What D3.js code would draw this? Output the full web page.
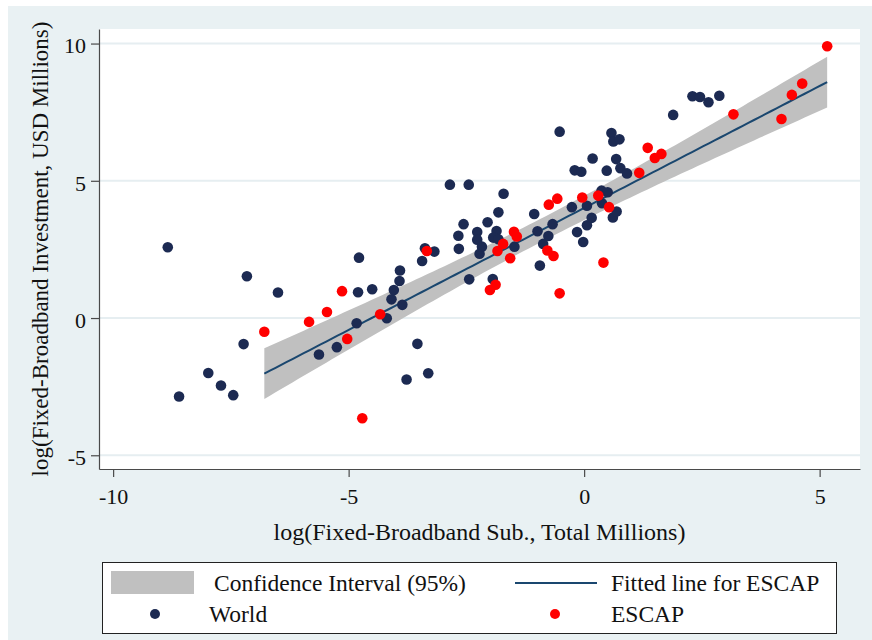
<!DOCTYPE html>
<html>
<head>
<meta charset="utf-8">
<script src="https://cdn.jsdelivr.net/npm/d3@7"></script>
<style>
  html, body { margin: 0; padding: 0; background: #ffffff; }
  svg { display: block; }
  text { font-family: "Liberation Serif", "Times New Roman", serif; fill: #111; }
</style>
</head>
<body>
<svg id="chart" width="872" height="640"></svg>
<script>
// ---- Data ----
const worldX = [-8.84,-8.60,-7.98,-7.71,-7.45,-7.16,-7.23,-6.50,-5.63,-5.25,-4.83,-4.80,-4.78,-4.50,-4.19,-4.09,-4.04,-3.92,-3.91,-3.86,-3.77,-3.54,-3.31,-3.44,-3.38,-3.18,-2.85,-2.45,-2.67,-2.66,-2.56,-2.44,-2.27,-2.27,-2.22,-2.17,-2.05,-1.94,-1.86,-1.93,-1.82,-1.82,-1.71,-1.48,-1.06,-0.99,-0.94,-0.87,-0.76,-0.67,-0.52,-0.26,-0.20,-0.06,-0.15,-0.02,0.06,0.16,0.18,0.06,0.37,0.50,0.38,0.48,0.58,0.62,0.75,0.61,0.69,0.68,0.77,0.91,1.89,2.30,2.46,2.64,2.87];
const worldY = [2.58,-2.86,-2.00,-2.46,-2.81,1.52,-0.95,0.93,-1.33,-1.06,-0.19,0.94,2.20,1.05,-0.01,0.68,1.02,1.35,1.73,0.48,-2.24,-0.94,-2.01,2.08,2.54,2.42,4.86,4.86,3.00,2.52,3.42,1.41,3.13,2.85,2.34,2.60,3.49,1.42,3.17,2.93,2.87,3.85,4.53,2.60,3.79,3.16,1.91,2.70,2.99,3.42,6.79,4.04,5.38,5.33,3.13,2.77,3.38,3.65,5.81,4.09,4.64,4.58,4.18,5.37,6.74,6.43,6.51,3.66,3.88,5.79,5.46,5.27,7.40,8.08,8.05,7.86,8.10];

const escapX = [-6.79,-5.84,-5.46,-5.14,-5.03,-4.71,-4.33,-3.34,-2.00,-1.88,-1.84,-1.72,-1.57,-1.49,-1.43,-0.78,-0.65,-0.75,-0.57,-0.52,-0.04,0.30,0.41,0.53,1.17,1.35,1.50,1.64,3.17,4.19,4.41,4.63,5.16];
const escapY = [-0.50,-0.14,0.22,0.98,-0.76,-3.65,0.14,2.44,1.02,1.21,2.44,2.70,2.18,3.14,2.97,2.46,2.26,4.13,4.35,0.90,4.39,4.46,2.02,4.04,5.29,6.20,5.83,5.98,7.42,7.25,8.13,8.54,9.90];

const xTicks = [-10, -5, 0, 5];
const yTicks = [-5, 0, 5, 10];

const xTitle = "log(Fixed-Broadband Sub., Total Millions)";
const yTitle = "log(Fixed-Broadband Investment, USD Millions)";
const legendLabels = ["Confidence Interval (95%)", "Fitted line for ESCAP", "World", "ESCAP"];

const T95 = 2.0395; // Student t quantile 0.975, df = n - 2 = 31

// ---- Styles ----
const C = {
  outerBg: "#e9f1f3",
  grid: "#e6eef1",
  ci: "#c0c0c0",
  fit: "#1a476f",
  world: "#1c2a52",
  escap: "#ff0000",
  axis: "#4a4a4a"
};

const svg = d3.select("#chart");

// backgrounds
svg.append("rect").attr("x", 0).attr("y", 0).attr("width", 872).attr("height", 640).attr("fill", "#ffffff");
svg.append("rect").attr("x", 8).attr("y", 6).attr("width", 864).attr("height", 634).attr("fill", C.outerBg);

const P = { left: 99, right: 860, top: 29, bottom: 469 };
svg.append("rect").attr("x", P.left).attr("y", P.top)
  .attr("width", P.right - P.left).attr("height", P.bottom - P.top).attr("fill", "#ffffff");

const x = d3.scaleLinear().domain([-10.30, 5.857]).range([P.left, P.right]);
const y = d3.scaleLinear().domain([-5.50, 10.53]).range([P.bottom, P.top]);

// gridlines
svg.append("g").selectAll("line").data(yTicks).join("line")
  .attr("x1", P.left).attr("x2", P.right)
  .attr("y1", d => y(d)).attr("y2", d => y(d))
  .attr("stroke", C.grid).attr("stroke-width", 2);

// ---- Linear fit with 95% CI on ESCAP ----
const n = escapX.length;
const mx = d3.mean(escapX), my = d3.mean(escapY);
let sxx = 0, sxy = 0;
for (let i = 0; i < n; i++) { sxx += (escapX[i] - mx) ** 2; sxy += (escapX[i] - mx) * (escapY[i] - my); }
const b = sxy / sxx, a = my - b * mx;
let sse = 0;
for (let i = 0; i < n; i++) { sse += (escapY[i] - (a + b * escapX[i])) ** 2; }
const s = Math.sqrt(sse / (n - 2));
const [xmin, xmax] = d3.extent(escapX);
const grid = d3.range(0, 101).map(i => xmin + (xmax - xmin) * i / 100);
const band = grid.map(xv => {
  const yh = a + b * xv;
  const se = s * Math.sqrt(1 / n + (xv - mx) ** 2 / sxx);
  return { x: xv, y: yh, lo: yh - T95 * se, hi: yh + T95 * se };
});

svg.append("path").datum(band)
  .attr("d", d3.area().x(d => x(d.x)).y0(d => y(d.lo)).y1(d => y(d.hi)))
  .attr("fill", C.ci);

svg.append("path").datum(band)
  .attr("d", d3.line().x(d => x(d.x)).y(d => y(d.y)))
  .attr("fill", "none").attr("stroke", C.fit).attr("stroke-width", 2);

// points
const R = 5.3;
svg.append("g").selectAll("circle").data(d3.range(worldX.length)).join("circle")
  .attr("cx", i => x(worldX[i])).attr("cy", i => y(worldY[i])).attr("r", R)
  .attr("fill", C.world);
svg.append("g").selectAll("circle").data(d3.range(escapX.length)).join("circle")
  .attr("cx", i => x(escapX[i])).attr("cy", i => y(escapY[i])).attr("r", R)
  .attr("fill", C.escap);

// axes
const xAxis = svg.append("g").attr("transform", `translate(0,${P.bottom})`)
  .call(d3.axisBottom(x).tickValues(xTicks).tickSize(8).tickSizeOuter(0).tickPadding(11).tickFormat(d3.format("d")));
const yAxis = svg.append("g").attr("transform", `translate(${P.left},0)`)
  .call(d3.axisLeft(y).tickValues(yTicks).tickSize(8).tickSizeOuter(0).tickPadding(5).tickFormat(d3.format("d")));
[xAxis, yAxis].forEach(g => {
  g.select(".domain").attr("stroke", C.axis).attr("stroke-width", 1.2);
  g.selectAll(".tick line").attr("stroke", C.axis).attr("stroke-width", 1.2);
  g.selectAll(".tick text").attr("font-family", "Liberation Serif").attr("font-size", 22).attr("fill", "#111");
});
// d3 renders minus as U+2212; reference uses a hyphen
svg.selectAll(".tick text").text(function() { return this.textContent.replace("\u2212", "-"); });
yAxis.selectAll(".tick text").attr("dy", "0.42em");

// titles
svg.append("text").attr("x", (P.left + P.right) / 2).attr("y", 540)
  .attr("text-anchor", "middle").attr("font-size", 24).text(xTitle);
svg.append("text").attr("transform", `translate(48,${(P.top + P.bottom) / 2}) rotate(-90)`)
  .attr("text-anchor", "middle").attr("font-size", 23).text(yTitle);

// legend
const L = svg.append("g");
L.append("rect").attr("x", 102.5).attr("y", 562.5).attr("width", 734).attr("height", 71)
  .attr("fill", "#ffffff").attr("stroke", "#222").attr("stroke-width", 1);
L.append("rect").attr("x", 111).attr("y", 571).attr("width", 83).attr("height", 23).attr("fill", C.ci);
L.append("line").attr("x1", 515).attr("x2", 597).attr("y1", 583).attr("y2", 583)
  .attr("stroke", C.fit).attr("stroke-width", 2);
L.append("circle").attr("cx", 155).attr("cy", 614).attr("r", 5).attr("fill", C.world);
L.append("circle").attr("cx", 555).attr("cy", 614).attr("r", 5).attr("fill", C.escap);
const legPos = [[214, 591], [611, 591], [209, 622], [611, 622]];
L.selectAll("text.leg").data(legendLabels).join("text").attr("class", "leg")
  .attr("x", (d, i) => legPos[i][0]).attr("y", (d, i) => legPos[i][1])
  .attr("font-size", 23.5).text(d => d);
</script>
</body>
</html>
